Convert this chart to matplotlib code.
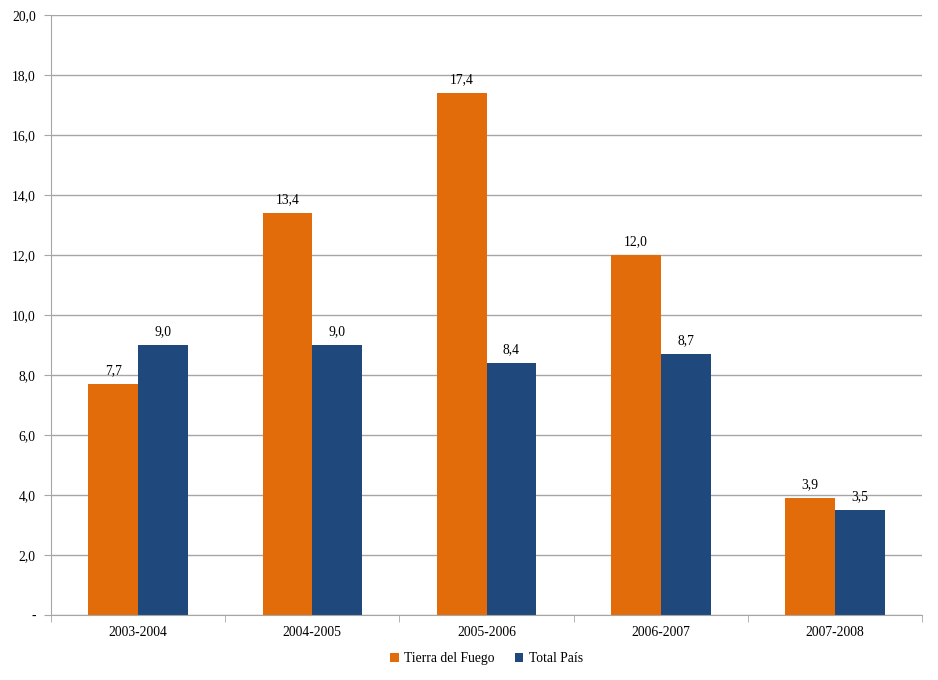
import matplotlib.pyplot as plt
import numpy as np

plt.rcParams['font.family'] = ['Liberation Serif', 'DejaVu Serif']

periods = ["2003-2004", "2004-2005", "2005-2006", "2006-2007", "2007-2008"]
tierra = [7.7, 13.4, 17.4, 12.0, 3.9]
total = [9.0, 9.0, 8.4, 8.7, 3.5]

orange = "#E36C0A"
navy = "#1F497D"
grid_c = "#A6A6A6"
fs = 9.8

fig = plt.figure(figsize=(9.38, 6.8), dpi=100)
ax = fig.add_axes([0.0544, 0.0956, 0.9286, 0.8824])

x = np.arange(len(periods))
w = 1 / 3.5
b1 = ax.bar(x - w / 2, tierra, w, color=orange, label="Tierra del Fuego")
b2 = ax.bar(x + w / 2, total, w, color=navy, label="Total País")

for bars, vals in [(b1, tierra), (b2, total)]:
    for bar, v in zip(bars, vals):
        ax.annotate(f"{v:.1f}".replace(".", ","),
                    (bar.get_x() + bar.get_width() / 2, v),
                    xytext=(0, 5), textcoords="offset points",
                    ha="center", va="bottom", fontsize=fs)

ax.set_xlim(-0.5, len(periods) - 0.5)
ax.set_ylim(0, 20)
yt = np.arange(0, 21, 2)
ax.set_yticks(yt)
ax.set_yticklabels(["-"] + [f"{v:.1f}".replace(".", ",") for v in yt[1:]])
ax.yaxis.grid(True, color=grid_c, linewidth=1)
ax.set_axisbelow(True)

ax.set_xticks(x)
ax.set_xticklabels(periods)
ax.set_xticks(np.arange(-0.5, len(periods)), minor=True)
ax.tick_params(axis="x", which="major", length=0, labelsize=fs, pad=8)
ax.tick_params(axis="x", which="minor", length=5, color=grid_c)
ax.tick_params(axis="y", length=5, color=grid_c, labelsize=fs, pad=6)

for s in ["top", "right"]:
    ax.spines[s].set_visible(False)
for s in ["left", "bottom"]:
    ax.spines[s].set_color(grid_c)

ax.legend(loc="upper center", bbox_to_anchor=(0.5, -0.042), ncol=2, frameon=False,
          fontsize=fs, handlelength=0.6, handleheight=0.6, handletextpad=0.4,
          columnspacing=1.5)

fig.savefig("out.png", dpi=100)
